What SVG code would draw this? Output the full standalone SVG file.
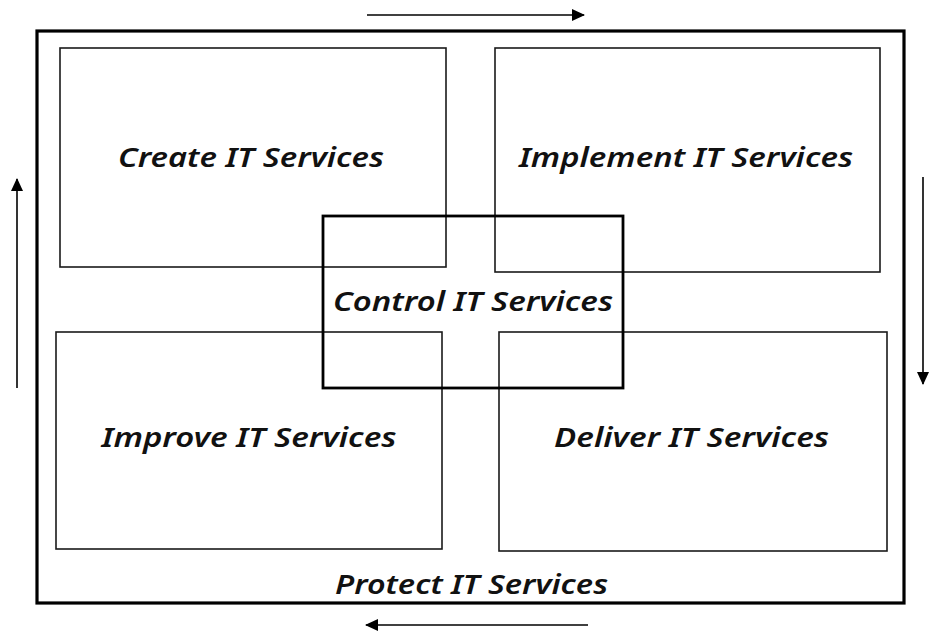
<svg xmlns="http://www.w3.org/2000/svg" width="930" height="633" viewBox="0 0 930 633">
  <style>
    .box { fill: none; stroke: #1a1a1a; stroke-width: 1.6; }
    .outer { fill: none; stroke: #000; stroke-width: 3.2; }
    .core { fill: none; stroke: #000; stroke-width: 2.8; }
    .flow { stroke: #000; stroke-width: 1.6; fill: none; marker-end: url(#head); }
    .label { font-family: "Noto Sans", "DejaVu Sans", sans-serif; font-style: italic; font-weight: 600; font-size: 27px; fill: #111; text-anchor: middle; }
  </style>
  <defs>
    <marker id="head" viewBox="0 0 13 12" refX="12" refY="6" markerWidth="13" markerHeight="12" markerUnits="userSpaceOnUse" orient="auto">
      <path d="M0,0 L13,6 L0,12 Z" fill="#000"/>
    </marker>
  </defs>
  <rect width="930" height="633" fill="#fff"/>

  <g id="protect">
    <rect class="outer" x="37" y="31" width="867" height="572"/>
    <text class="label" x="471.5" y="594" textLength="273" lengthAdjust="spacingAndGlyphs">Protect IT Services</text>
  </g>

  <g id="create">
    <rect class="box" x="60" y="48" width="386" height="219"/>
    <text class="label" x="251" y="167" textLength="266" lengthAdjust="spacingAndGlyphs">Create IT Services</text>
  </g>

  <g id="implement">
    <rect class="box" x="495" y="48" width="385" height="224"/>
    <text class="label" x="686" y="167" textLength="334" lengthAdjust="spacingAndGlyphs">Implement IT Services</text>
  </g>

  <g id="improve">
    <rect class="box" x="56" y="332" width="386" height="217"/>
    <text class="label" x="249" y="447" textLength="295" lengthAdjust="spacingAndGlyphs">Improve IT Services</text>
  </g>

  <g id="deliver">
    <rect class="box" x="499" y="332" width="388" height="219"/>
    <text class="label" x="691.5" y="447" textLength="275" lengthAdjust="spacingAndGlyphs">Deliver IT Services</text>
  </g>

  <g id="control">
    <rect class="core" x="323" y="216" width="300" height="172"/>
    <text class="label" x="473" y="311" textLength="280" lengthAdjust="spacingAndGlyphs">Control IT Services</text>
  </g>

  <g id="connectors">
    <line class="flow" x1="367" y1="15" x2="584" y2="15"/>
    <line class="flow" x1="923" y1="177" x2="923" y2="384"/>
    <line class="flow" x1="588" y1="625" x2="366" y2="625"/>
    <line class="flow" x1="17" y1="388" x2="17" y2="179"/>
  </g>
</svg>
